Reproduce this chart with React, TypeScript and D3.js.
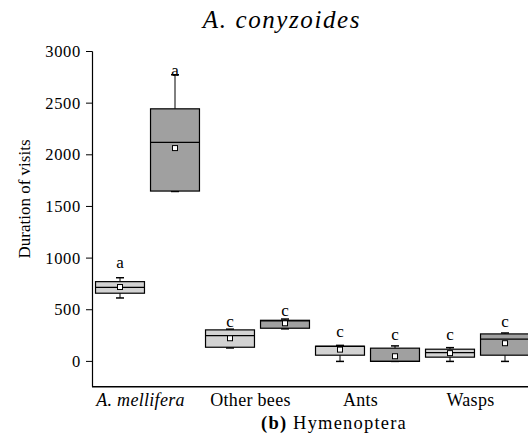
import React from "react";
import * as d3 from "d3";

const groups = ["A. mellifera", "Other bees", "Ants", "Wasps"];
const series = ["light", "dark"];
const seriesColors = ["#d3d3d3", "#a0a0a0"];
const yTicks = [0, 500, 1000, 1500, 2000, 2500, 3000];

// per group, per series: [min, q1, median, q3, max, mean]
const lightStats = [
  [614, 660, 717, 772, 810, 720],
  [130, 137, 250, 305, 312, 224],
  [0, 60, 145, 147, 155, 114],
  [0, 41, 85, 118, 133, 80],
];
const darkStats = [
  [1645, 1649, 2120, 2445, 2775, 2065],
  [315, 321, 392, 398, 410, 369],
  [0, 0, 0, 128, 150, 50],
  [0, 60, 215, 266, 275, 176],
];
const lightLetters = ["a", "c", "c", "c"];
const darkLetters = ["a", "c", "c", "c"];
const lightLetterAt = [952, 382, 285, 256];
const darkLetterAt = [2809, 485, 256, 385];

const W = 528;
const H = 442;

export default function App() {
  const y = d3.scaleLinear().domain([-245, 3000]).range([386.7, 51.5]);
  const x = d3.scaleBand<string>().domain(groups).range([92.5, 532.5]).padding(0);
  const xi = d3.scaleBand<string>().domain(series).range([0, x.bandwidth()]).padding(0);
  const boxW = xi.bandwidth() * 0.89;
  const capW = 8;

  const boxes: any[] = [];
  groups.forEach((g, gi) => {
    series.forEach((s, si) => {
      const st = si === 0 ? lightStats[gi] : darkStats[gi];
      const letter = si === 0 ? lightLetters[gi] : darkLetters[gi];
      const letterAt = si === 0 ? lightLetterAt[gi] : darkLetterAt[gi];
      const cx = (x(g) as number) + (xi(s) as number) + xi.bandwidth() / 2;
      const [mn, q1, md, q3, mx, mean] = st;
      boxes.push(
        <g key={g + s}>
          <line x1={cx} x2={cx} y1={y(mx)} y2={y(q3)} stroke="#000" strokeWidth={1} />
          <line x1={cx} x2={cx} y1={y(q1)} y2={y(mn)} stroke="#000" strokeWidth={1} />
          <line x1={cx - capW / 2} x2={cx + capW / 2} y1={y(mx)} y2={y(mx)} stroke="#000" strokeWidth={1.5} />
          <line x1={cx - capW / 2} x2={cx + capW / 2} y1={y(mn)} y2={y(mn)} stroke="#000" strokeWidth={1.5} />
          <rect
            x={cx - boxW / 2}
            y={y(q3)}
            width={boxW}
            height={Math.max(1, y(q1) - y(q3))}
            fill={seriesColors[si]}
            stroke="#000"
            strokeWidth={1.2}
          />
          <line x1={cx - boxW / 2} x2={cx + boxW / 2} y1={y(md)} y2={y(md)} stroke="#000" strokeWidth={1.2} />
          <rect x={cx - 2.5} y={y(mean) - 2.5} width={5} height={5} fill="#fff" stroke="#000" strokeWidth={1} />
          <text x={cx} y={y(letterAt) + 5} textAnchor="middle" fontSize={17}>
            {letter}
          </text>
        </g>
      );
    });
  });

  return (
    <svg
      width={W}
      height={H}
      style={{ position: "absolute", left: 0, top: 0, background: "#fff", fontFamily: '"Liberation Serif", "Times New Roman", Times, serif' }}
    >
      <rect x={0} y={0} width={W} height={H} fill="#fff" />
      <text x={282} y={28} textAnchor="middle" fontSize={25} fontStyle="italic" letterSpacing={1.6}>
        A. conyzoides
      </text>
      <line x1={92.5} x2={92.5} y1={y(3000)} y2={386.7} stroke="#000" strokeWidth={1.2} />
      <line x1={92} x2={W} y1={386.7} y2={386.7} stroke="#000" strokeWidth={1.5} />
      {yTicks.map((t) => (
        <g key={t}>
          <line x1={86} x2={92.5} y1={y(t)} y2={y(t)} stroke="#000" strokeWidth={1} />
          <text x={81} y={y(t) + 5.5} textAnchor="end" fontSize={16.5} letterSpacing={0.7}>
            {t}
          </text>
        </g>
      ))}
      <text transform={`translate(29.5, 199) rotate(-90)`} textAnchor="middle" fontSize={17}>
        Duration of visits
      </text>
      {groups.map((g, gi) => (
        <text
          key={g}
          x={(x(g) as number) + x.bandwidth() / 2 - 7}
          y={406}
          textAnchor="middle"
          fontSize={18}
          letterSpacing={0.3}
          fontStyle={gi === 0 ? "italic" : "normal"}
        >
          {g}
        </text>
      ))}
      <text x={334} y={429} textAnchor="middle" fontSize={18.5} letterSpacing={1.2}>
        <tspan fontWeight="bold">(b)</tspan> Hymenoptera
      </text>
      {boxes}
    </svg>
  );
}
